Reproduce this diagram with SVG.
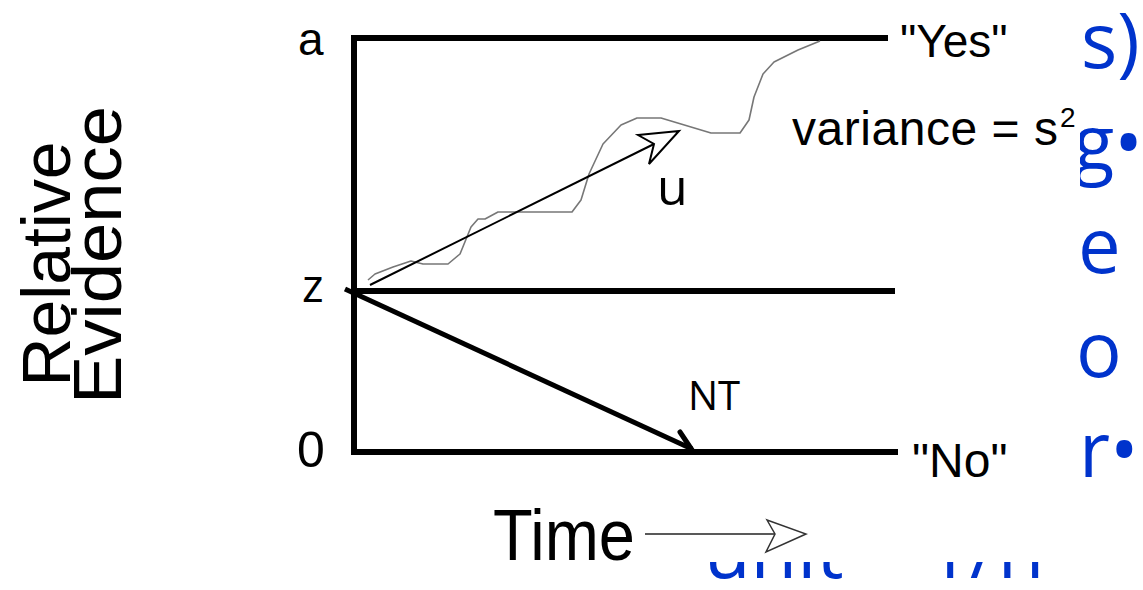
<svg xmlns="http://www.w3.org/2000/svg" width="1143" height="590" viewBox="0 0 1143 590">
<style>
.bg{fill:#0033cc;font-family:"Open Sans","Noto Sans",sans-serif;font-size:76px}
.lbl{fill:#000;font-family:"Liberation Sans",Arial,sans-serif}
.lbl2{fill:#000;font-family:"Open Sans","Noto Sans",sans-serif}
.thick{fill:none;stroke:#000;stroke-width:6}
</style>
<rect width="1143" height="590" fill="#fff"/>
<g id="slide-text">
<text class="bg" x="1081" y="68">s)</text>
<text class="bg" x="1073" y="170">g•</text>
<text class="bg" x="1078" y="273">e</text>
<text class="bg" x="1076" y="377">o</text>
<text class="bg" x="1079" y="477">r•</text>
<text class="bg" x="704" y="578">unit = 1/n</text>
</g>
<rect x="0" y="0" width="1080" height="562" fill="#fff"/>
<g id="axes">
<path class="thick" d="M888 38 H354 V452 H898"/>
<path class="thick" d="M354 291 H895" stroke-width="7"/>
</g>
<g id="labels">
<text class="lbl" x="298" y="55" font-size="46">a</text>
<text class="lbl2" x="302" y="302" font-size="46">z</text>
<text class="lbl" x="297" y="467" font-size="50">0</text>
<text class="lbl" x="900" y="57" font-size="46">"Yes"</text>
<text class="lbl" x="912" y="477" font-size="48">"No"</text>
<text class="lbl" x="792" y="145" font-size="48" textLength="266">variance = s</text>
<text class="lbl" x="1060" y="127" font-size="28">2</text>
<text class="lbl" x="493" y="560" font-size="72" textLength="142" lengthAdjust="spacingAndGlyphs">Time</text>
<text class="lbl" transform="translate(70,264) rotate(-90)" text-anchor="middle" font-size="68" textLength="245" lengthAdjust="spacingAndGlyphs">Relative</text>
<text class="lbl" transform="translate(121,255) rotate(-90)" text-anchor="middle" font-size="68" textLength="298" lengthAdjust="spacingAndGlyphs">Evidence</text>
<text class="lbl2" x="657" y="205" font-size="50">u</text>
<text class="lbl2" x="688" y="410" font-size="40">NT</text>
</g>
<g id="connectors">
<path id="walk" d="M368 280 L375 274 L393 267 L411 261 L423 264 L448 264 L460 254 L471 227 L478 219 L485 219 L498 212 L572 212 L581 200 L589 174 L603 144 L621 125 L637 118 L661 118 L681 124 L711 133 L740 133 L749 120 L754 97 L763 74 L774 62 L798 50 L820 41" fill="none" stroke="#777" stroke-width="1.6" stroke-linejoin="round"/>
<line x1="370" y1="285" x2="654" y2="144" stroke="#000" stroke-width="2"/>
<polygon points="638,135 679,131 649,164 654,144" fill="#fff" stroke="#000" stroke-width="2" stroke-linejoin="miter"/>
<line x1="345" y1="289" x2="692" y2="449" stroke="#000" stroke-width="5"/>
<line x1="680" y1="432" x2="692" y2="450" stroke="#000" stroke-width="5" stroke-linecap="round"/>
<line x1="645" y1="534" x2="775" y2="534" stroke="#222" stroke-width="1.5"/>
<polygon points="767,520 806,534 766,552 775,534" fill="#fff" stroke="#333" stroke-width="1.5"/>
</g>
</svg>
